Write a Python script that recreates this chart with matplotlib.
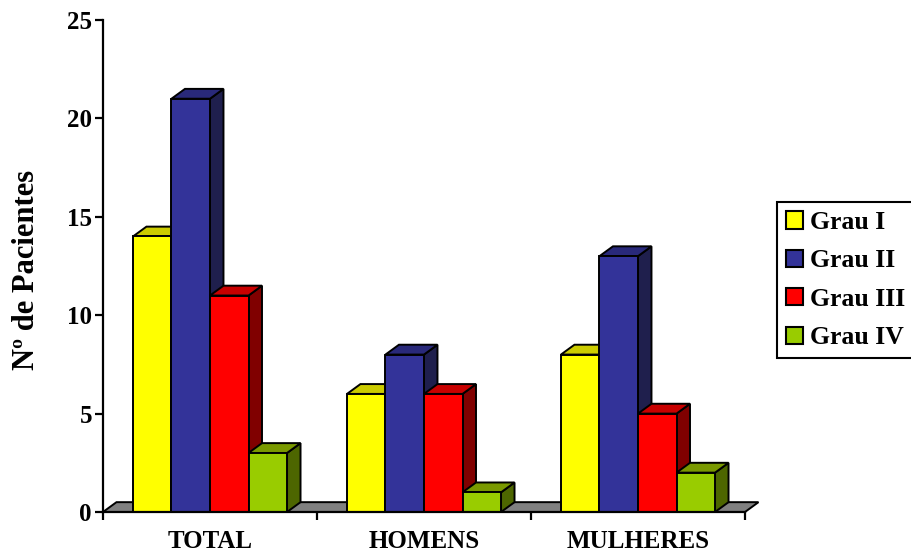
import matplotlib.pyplot as plt
from matplotlib.patches import Rectangle, Polygon, Patch
import numpy as np

categorias = ['TOTAL', 'HOMENS', 'MULHERES']
graus = ['Grau I', 'Grau II', 'Grau III', 'Grau IV']
grau1 = [14, 6, 8]
grau2 = [21, 8, 13]
grau3 = [11, 6, 5]
grau4 = [3, 1, 2]
series = [grau1, grau2, grau3, grau4]

cores = ['#FFFF00', '#333399', '#FF0000', '#99CC00']
cores_topo = ['#CCCC00', '#29297A', '#C80000', '#7A9900']
cores_lado = ['#808000', '#1F1F4D', '#800000', '#4D6600']

plt.rcParams['font.family'] = ['Liberation Serif', 'DejaVu Serif']
plt.rcParams['font.weight'] = 'bold'

fig = plt.figure(figsize=(9.12, 5.55), dpi=100)
ax = fig.add_axes([103/912, 43/555, 642/912, 492/555])
ax.set_xlim(0, 3)
ax.set_ylim(0, 25)

w = 0.18     # largura da barra
dx = 0.063   # profundidade (x)
dy = 0.5     # profundidade (y)
lw = 1.4

# piso cinza
piso = Polygon([(0, 0), (3, 0), (3 + dx, dy), (dx, dy)], closed=True,
               facecolor='#808080', edgecolor='black', lw=lw, clip_on=False, zorder=1)
ax.add_patch(piso)

z = 2
for i in range(len(categorias)):
    centro = i + 0.5
    for j, s in enumerate(series):
        x = centro - 2 * w + j * w
        h = s[i]
        lado = Polygon([(x + w, 0), (x + w + dx, dy), (x + w + dx, h + dy), (x + w, h)],
                       closed=True, facecolor=cores_lado[j], edgecolor='black', lw=lw,
                       clip_on=False, zorder=z)
        topo = Polygon([(x, h), (x + w, h), (x + w + dx, h + dy), (x + dx, h + dy)],
                       closed=True, facecolor=cores_topo[j], edgecolor='black', lw=lw,
                       clip_on=False, zorder=z)
        frente = Rectangle((x, 0), w, h, facecolor=cores[j], edgecolor='black', lw=lw,
                           clip_on=False, zorder=z)
        ax.add_patch(lado)
        ax.add_patch(topo)
        ax.add_patch(frente)
        z += 0.01

for sp in ['top', 'right']:
    ax.spines[sp].set_visible(False)
for sp in ['left', 'bottom']:
    ax.spines[sp].set_linewidth(1.6)
    ax.spines[sp].set_zorder(5)

ax.set_yticks([0, 5, 10, 15, 20, 25])
ax.tick_params(axis='y', length=6, width=1.6, pad=2, labelsize=18)
ax.set_xticks([0, 1, 2, 3])
ax.set_xticklabels([])
ax.tick_params(axis='x', which='major', length=6, width=1.6)
ax.set_xticks([0.5, 1.5, 2.5], categorias, minor=True)
ax.tick_params(axis='x', which='minor', length=0, pad=13, labelsize=18)

fig.text(27/912, 1 - 270/555, 'Nº de Pacientes', rotation=90, ha='center', va='center',
         fontsize=22, fontweight='bold')

handles = [Patch(facecolor=c, edgecolor='black', lw=1.5) for c in cores]
leg = fig.legend(handles, graus, loc='upper left', bbox_to_anchor=(777/912, 1 - 202/555),
                 borderaxespad=0, fontsize=18.5, handlelength=0.65, handleheight=0.65,
                 handletextpad=0.3, labelspacing=0.6, fancybox=False, framealpha=1,
                 borderpad=0.35)
leg.get_frame().set_edgecolor('black')
leg.get_frame().set_linewidth(1.5)

fig.savefig('out.png', dpi=100)
